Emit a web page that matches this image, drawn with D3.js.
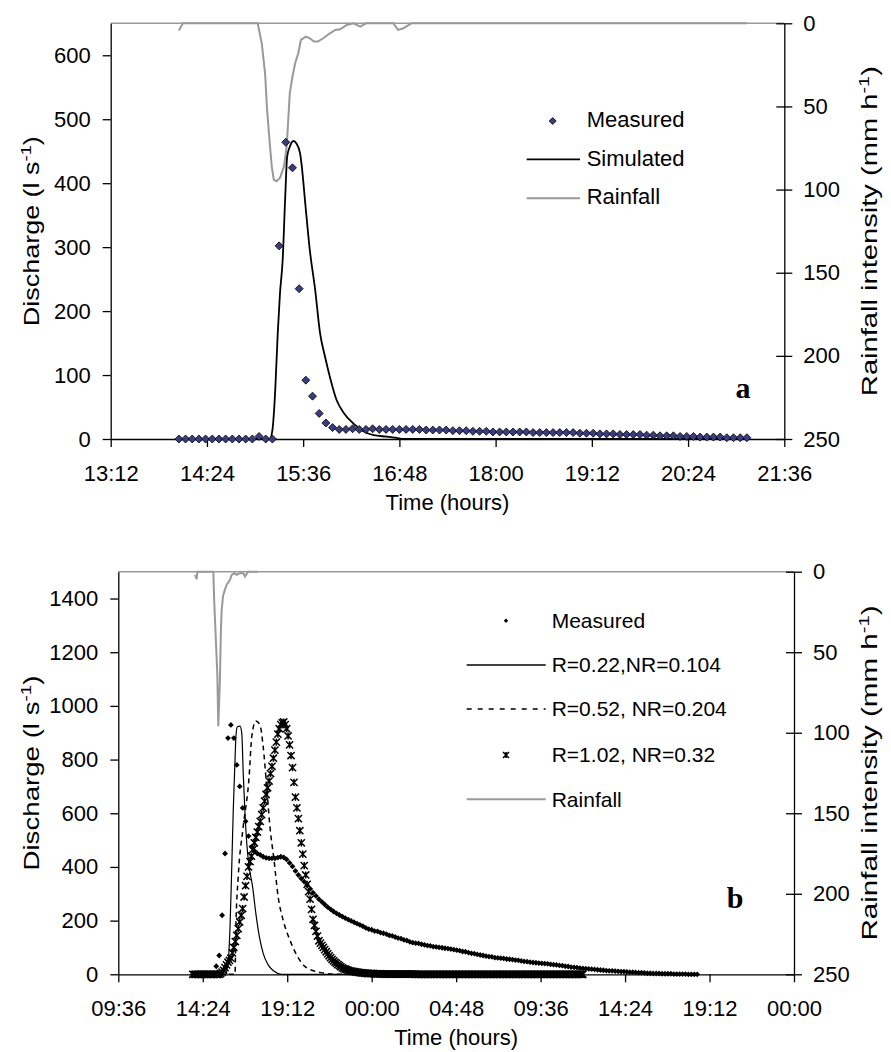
<!DOCTYPE html>
<html lang="en">
<head>
<meta charset="UTF-8">
<title>Discharge and rainfall, events a and b</title>
<script src="https://d3js.org/d3.v7.min.js"></script>
<style>
  body { margin: 0; background: #fff; }
  text { font-family: "Liberation Sans", Arial, sans-serif; fill: #000; }
  .tick text { font-size: 22px; }
  .axis path, .axis line { stroke: #000; stroke-width: 1.3; }
</style>
</head>
<body>
<svg width="891" height="1052"></svg>
<script>
// ---------- event a ----------
const aTimeTicks = ["13:12", "14:24", "15:36", "16:48", "18:00", "19:12", "20:24", "21:36"];
const aDischargeTicks = [0, 100, 200, 300, 400, 500, 600];
const aRainTicks = [0, 50, 100, 150, 200, 250];

// measured discharge every 5 minutes from 14:03 (l/s)
const aMeasuredStart = "14:03", aMeasuredStep = 5;
const aMeasured = [
  0, 0, 0, 0, 0, 0, 0, 0, 0, 0, 0, 0, 4, 0, 0,
  302, 464, 424, 235, 92, 67, 40, 25, 18,
  15, 15, 16, 15, 15, 16, 15, 15, 15, 15, 15, 15, 15,
  14, 14, 14, 14, 13, 13, 13, 12, 12, 12, 11, 11, 11, 11, 11, 11,
  10, 10, 10, 10, 10, 10, 10, 9, 9, 9, 8, 8, 8, 7, 7, 7, 7, 6, 6,
  5, 5, 5, 4, 4, 4, 3, 3, 3, 3, 2, 2, 2, 2
];

const aSimTimes = ["14:03", "15:11", "15:13", "15:15", "15:17", "15:18:40", "15:20:40", "15:22:30",
  "15:24", "15:26", "15:28:40", "15:31", "15:33:40", "15:35", "15:37:20", "15:41", "15:45",
  "15:48:40", "15:52:20", "15:56", "16:01", "16:06", "16:13:40", "16:21", "16:28:40",
  "16:38:40", "16:46", "16:51", "21:08"];
const aSimValues = [0, 0, 14, 72, 166, 228, 280, 374, 441, 457, 466, 462, 447, 426, 374, 295, 233,
  165, 129, 97, 61, 42, 24, 12, 6, 3.6, 1.6, 0, 0];

const aRainTimes = ["14:03", "14:06", "15:02", "15:05", "15:07:30", "15:09", "15:11", "15:12:30",
  "15:14", "15:16", "15:18:40", "15:21:40", "15:23:40", "15:25", "15:26", "15:28", "15:30",
  "15:32:20", "15:34:20", "15:38", "15:41", "15:44", "15:47", "15:51", "15:56", "16:00",
  "16:03:40", "16:08:40", "16:13:40", "16:18:40", "16:23", "16:43:30", "16:47", "16:51",
  "16:57", "21:08"];
const aRainValues = [4.4, 0, 0, 12, 30, 52, 72, 86, 94, 95, 93, 86, 74, 56, 42, 32, 24, 18, 10, 8,
  9, 11, 11, 9, 6, 4, 3.6, 1, 0, 2, 0, 0, 4, 3, 0, 0];

// ---------- event b ----------
const bTimeTicks = ["1 09:36", "1 14:24", "1 19:12", "2 00:00", "2 04:48", "2 09:36", "2 14:24", "2 19:12", "3 00:00"];
const bDischargeTicks = [0, 200, 400, 600, 800, 1000, 1200, 1400];
const bRainTicks = [0, 50, 100, 150, 200, 250];

// measured discharge every 10 minutes from 13:50 (l/s)
const bMeasuredStart = "1 13:50", bMeasuredStep = 10;
const bMeasured = [
  0, 0, 0, 0, 0, 0, 0, 3, 30, 70,
  220, 450, 880, 929, 880, 780, 700, 620, 570, 515,
  475, 460, 450, 445, 438, 434, 432, 432, 432, 435,
  438, 436, 428, 415, 402, 385, 370, 357, 345, 332,
  318, 304, 292, 280, 270, 260, 250, 242, 234, 227,
  221, 215, 209, 204, 199, 194, 189, 184, 179, 173,
  168, 166, 161, 160, 155, 153, 150, 145, 143, 139,
  135, 133, 128, 126, 121, 118, 116, 115, 112, 110,
  107, 106, 103, 102, 100, 99, 97, 96, 94, 92,
  90, 88, 85, 84, 81, 78, 77, 74, 72, 70,
  68, 66, 65, 62, 61, 60, 59, 57, 56, 55,
  53, 52, 50, 48, 47, 45, 44, 43, 42, 41,
  40, 39, 37, 36, 35, 33, 32, 30, 29, 27,
  26, 25, 23, 22, 21, 20, 19, 18, 17, 16,
  15, 14, 13, 13, 12, 11, 10, 10, 9, 8,
  8, 7, 6, 6, 5, 4, 4, 3, 3, 3,
  2, 2, 2, 2, 1, 1, 1, 1, 1, 0,
  0, 0, 0
];

// simulated, R=1.02, NR=0.32, every 5 minutes from 13:50
const bSim3Start = "1 13:50", bSim3Step = 5;
const bSim3 = [
  0, 0, 0, 0, 0, 0, 0, 0, 0, 0, 0, 0, 0, 0, 0, 0, 0, 0, 0, 3,
  8, 15, 25, 35, 45, 52, 60, 80, 100, 122, 145, 170, 195, 220, 245, 288, 330, 365, 400, 420,
  440, 465, 490, 510, 530, 550, 570, 595, 620, 645, 670, 695, 720, 748, 775, 805, 835, 865, 895, 915,
  930, 937, 940, 930, 915, 888, 855, 815, 770, 715, 660, 620, 580, 535, 490, 448, 405, 370, 335, 308,
  280, 242, 205, 182, 160, 142, 125, 116, 108, 100, 92, 84, 76, 69, 62, 56, 50, 45, 41, 36,
  32, 28, 24, 21, 19, 17, 15, 13, 12, 11, 10, 9, 8, 7, 6, 5, 5, 4, 4, 3,
  3, 3, 3, 3, 2, 2, 2, 2, 2, 2, 1, 1, 1, 1, 1, 1, 1, 1, 1, 1,
  1, 1, 1, 1, 1, 1, 1, 1, 1, 1, 1, 1, 0, 0, 0, 0, 0, 0, 0, 0,
  0, 0, 0, 0, 0, 0, 0, 0, 0, 0, 0, 0, 0, 0, 0, 0, 0, 0, 0, 0,
  0, 0, 0, 0, 0, 0, 0, 0, 0, 0, 0, 0, 0, 0, 0, 0, 0, 0, 0, 0,
  0, 0, 0, 0, 0, 0, 0, 0, 0, 0, 0, 0, 0, 0, 0, 0, 0, 0, 0, 0,
  0, 0, 0, 0, 0, 0, 0, 0, 0, 0, 0, 0, 0, 0, 0, 0, 0, 0, 0, 0,
  0, 0, 0, 0, 0, 0, 0, 0, 0, 0, 0, 0, 0, 0, 0, 0, 0, 0, 0, 0,
  0, 0, 0, 0, 0, 0, 0
];

// simulated, R=0.22, NR=0.104
const bSim1Times = ["1 13:50", "1 15:41", "1 15:51", "1 15:57", "1 16:02", "1 16:08", "1 16:14", "1 16:17",
  "1 16:22", "1 16:31", "1 16:37", "1 16:42", "1 16:48", "1 16:54", "1 17:02", "1 17:14", "1 17:25",
  "1 17:37", "1 17:50", "1 18:07", "1 18:25", "1 18:53", "2 12:00"];
const bSim1Values = [0, 0, 53, 177, 364, 612, 798, 885, 922, 925, 898, 749, 600, 488, 401, 326, 227,
  140, 78, 35, 13, 0, 0];

// simulated, R=0.52, NR=0.204
const bSim2Times = ["1 13:50", "1 16:14", "1 16:17", "1 16:25", "1 16:42", "1 17:02", "1 17:11", "1 17:25",
  "1 17:39", "1 17:50", "1 18:02", "1 18:13", "1 18:27", "1 18:41", "1 18:58", "1 19:21", "1 19:44",
  "1 20:07", "1 20:41", "1 21:15", "1 22:01", "2 12:00"];
const bSim2Values = [0, 0, 177, 364, 550, 736, 885, 944, 929, 848, 699, 550, 426, 289, 202, 128, 72,
  35, 13, 5, 0, 0];

const bRainTimes = ["1 13:58", "1 14:03", "1 14:06", "1 15:00", "1 15:03", "1 15:09", "1 15:13:30",
  "1 15:17", "1 15:22:30", "1 15:26", "1 15:28:30", "1 15:33", "1 15:40", "1 15:45:30", "1 15:57",
  "1 16:02:30", "1 16:11:30", "1 16:19:30", "1 16:28:30", "1 16:42", "1 16:48", "1 16:59", "1 17:30"];
const bRainValues = [2, 4.7, 0, 0, 18, 44, 63, 96, 67, 35, 24, 15, 11, 8, 5, 2, 1, 2, 1, 1, 3, 0, 0];

// ---------- helpers ----------
const parseT = s => {
  const parts = s.trim().split(" ");
  const day = parts.length > 1 ? +parts[0] : 1;
  const [h, m, sec = 0] = parts[parts.length - 1].split(":").map(Number);
  return new Date(2000, 0, day, h, m, sec);
};
const pairs = (times, values) => times.map((t, i) => ({ t: parseT(t), v: values[i] }));
const stepped = (start, step, values) =>
  values.map((v, i) => ({ t: d3.timeMinute.offset(parseT(start), i * step), v: v }));
const fmt = d3.timeFormat("%H:%M");

const svg = d3.select("svg");

function panel(o) {
  const x = d3.scaleTime().domain([parseT(o.tTicks[0]), parseT(o.tTicks[o.tTicks.length - 1])]).range([o.left, o.right]);
  const yq = d3.scaleLinear().domain([0, o.qMax]).range([o.bottom, o.top]);
  const yr = d3.scaleLinear().domain([0, 250]).range([o.top, o.bottom]);

  // top border of plot area
  svg.append("line")
    .attr("x1", o.left).attr("x2", o.right)
    .attr("y1", o.top).attr("y2", o.top)
    .attr("stroke", "#999").attr("stroke-width", 1.5);

  svg.append("g").attr("class", "axis")
    .attr("transform", `translate(0,${o.bottom})`)
    .call(d3.axisBottom(x).tickValues(o.tTicks.map(parseT)).tickFormat(fmt)
      .tickSizeInner(8).tickSizeOuter(0).tickPadding(18));

  svg.append("g").attr("class", "axis")
    .attr("transform", `translate(${o.left},0)`)
    .call(d3.axisLeft(yq).tickValues(o.qTicks).tickFormat(d3.format("d"))
      .tickSizeInner(8).tickSizeOuter(0).tickPadding(12));

  const ra = svg.append("g").attr("class", "axis")
    .attr("transform", `translate(${o.right},0)`)
    .call(d3.axisRight(yr).tickValues(o.rTicks).tickSizeInner(8).tickSizeOuter(0).tickPadding(11));
  ra.selectAll(".tick line").attr("x1", -8);

  svg.selectAll(".axis .tick text").attr("fill", "#000");

  // axis titles (stretched along their length like the original)
  const cy = (o.top + o.bottom) / 2;
  const lt = svg.append("text")
    .attr("transform", `translate(39,${cy}) rotate(-90)`)
    .attr("text-anchor", "middle").style("font-size", "22px")
    .attr("textLength", o.leftTitleLen).attr("lengthAdjust", "spacingAndGlyphs");
  lt.append("tspan").text("Discharge (l s");
  lt.append("tspan").attr("dy", -8).style("font-size", "15px").text("-1");
  lt.append("tspan").attr("dy", 8).text(")");

  const rt = svg.append("text")
    .attr("transform", `translate(877,${cy}) rotate(-90)`)
    .attr("text-anchor", "middle").style("font-size", "22px")
    .attr("textLength", o.rightTitleLen).attr("lengthAdjust", "spacingAndGlyphs");
  rt.append("tspan").text("Rainfall intensity (mm h");
  rt.append("tspan").attr("dy", -8).style("font-size", "15px").text("-1");
  rt.append("tspan").attr("dy", 8).text(")");

  svg.append("text")
    .attr("x", (o.left + o.right) / 2).attr("y", o.bottom + 71)
    .attr("text-anchor", "middle").style("font-size", "22px")
    .text("Time (hours)");

  return { x, yq, yr };
}

const diamond = r => `M0,${-r}L${r},0L0,${r}L${-r},0Z`;
const star = r => `M${-r},${-r}L${r},${r}M${-r},${r}L${r},${-r}M0,${-r}L0,${r}`;

// ---------- panel a ----------
{
  const o = { left: 110.7, right: 784.3, top: 23.3, bottom: 439, qMax: 650,
    tTicks: aTimeTicks, qTicks: aDischargeTicks, rTicks: aRainTicks,
    leftTitleLen: 190, rightTitleLen: 330 };
  const { x, yq, yr } = panel(o);

  svg.append("path").datum(pairs(aRainTimes, aRainValues))
    .attr("fill", "none").attr("stroke", "#999").attr("stroke-width", 2)
    .attr("d", d3.line().x(d => x(d.t)).y(d => yr(d.v)));

  svg.append("path").datum(pairs(aSimTimes, aSimValues))
    .attr("fill", "none").attr("stroke", "#000").attr("stroke-width", 1.8)
    .attr("d", d3.line().curve(d3.curveMonotoneX).x(d => x(d.t)).y(d => yq(d.v)));

  svg.append("g").selectAll("path")
    .data(stepped(aMeasuredStart, aMeasuredStep, aMeasured))
    .join("path")
    .attr("transform", d => `translate(${x(d.t)},${yq(d.v)})`)
    .attr("d", diamond(4))
    .attr("fill", "#3b3b80").attr("stroke", "#000").attr("stroke-width", 0.8);

  // legend
  const lg = svg.append("g").style("font-size", "22px");
  lg.append("path").attr("transform", "translate(552.7,121)").attr("d", diamond(3.5))
    .attr("fill", "#3b3b80").attr("stroke", "#000").attr("stroke-width", 0.8);
  lg.append("text").attr("x", 586.7).attr("y", 119).attr("dy", "0.35em").text("Measured");
  lg.append("line").attr("x1", 526.7).attr("x2", 580).attr("y1", 159.3).attr("y2", 159.3)
    .attr("stroke", "#000").attr("stroke-width", 1.8);
  lg.append("text").attr("x", 586.7).attr("y", 158.3).attr("dy", "0.35em").text("Simulated");
  lg.append("line").attr("x1", 526.7).attr("x2", 580).attr("y1", 198.3).attr("y2", 198.3)
    .attr("stroke", "#999").attr("stroke-width", 2);
  lg.append("text").attr("x", 586.7).attr("y", 196.7).attr("dy", "0.35em").text("Rainfall");

  svg.append("text").attr("x", 743).attr("y", 398).attr("text-anchor", "middle")
    .style("font-family", "'Liberation Serif', 'Times New Roman', serif")
    .style("font-weight", "bold").style("font-size", "30px").text("a");
}

// ---------- panel b ----------
{
  const o = { left: 118.3, right: 794, top: 571.7, bottom: 974.3, qMax: 1500,
    tTicks: bTimeTicks, qTicks: bDischargeTicks, rTicks: bRainTicks,
    leftTitleLen: 195, rightTitleLen: 335 };
  const { x, yq, yr } = panel(o);

  svg.append("path").datum(pairs(bRainTimes, bRainValues))
    .attr("fill", "none").attr("stroke", "#999").attr("stroke-width", 2)
    .attr("d", d3.line().x(d => x(d.t)).y(d => yr(d.v)));

  svg.append("g").selectAll("path")
    .data(stepped(bMeasuredStart, bMeasuredStep, bMeasured))
    .join("path")
    .attr("transform", d => `translate(${x(d.t)},${yq(d.v)})`)
    .attr("d", diamond(2.9)).attr("fill", "#000");

  svg.append("path").datum(pairs(bSim1Times, bSim1Values))
    .attr("fill", "none").attr("stroke", "#000").attr("stroke-width", 1.2)
    .attr("d", d3.line().curve(d3.curveMonotoneX).x(d => x(d.t)).y(d => yq(d.v)));

  svg.append("path").datum(pairs(bSim2Times, bSim2Values))
    .attr("fill", "none").attr("stroke", "#000").attr("stroke-width", 1.5)
    .attr("stroke-dasharray", "5,4")
    .attr("d", d3.line().curve(d3.curveMonotoneX).x(d => x(d.t)).y(d => yq(d.v)));

  svg.append("g").selectAll("path")
    .data(stepped(bSim3Start, bSim3Step, bSim3))
    .join("path")
    .attr("transform", d => `translate(${x(d.t)},${yq(d.v)})`)
    .attr("d", star(3.6))
    .attr("fill", "none").attr("stroke", "#000").attr("stroke-width", 1.5);

  // legend
  const lg = svg.append("g").style("font-size", "21px");
  const tx = 551.7;
  lg.append("path").attr("transform", "translate(506,620.7)").attr("d", diamond(2.2)).attr("fill", "#000");
  lg.append("text").attr("x", tx).attr("y", 620.7).attr("dy", "0.35em").text("Measured");
  lg.append("line").attr("x1", 466.7).attr("x2", 545.7).attr("y1", 665).attr("y2", 665)
    .attr("stroke", "#000").attr("stroke-width", 1.5);
  lg.append("text").attr("x", tx).attr("y", 665).attr("dy", "0.35em").text("R=0.22,NR=0.104");
  lg.append("line").attr("x1", 466.7).attr("x2", 545.7).attr("y1", 709).attr("y2", 709)
    .attr("stroke", "#000").attr("stroke-width", 1.5).attr("stroke-dasharray", "5,6");
  lg.append("text").attr("x", tx).attr("y", 709).attr("dy", "0.35em").text("R=0.52, NR=0.204");
  lg.append("path").attr("transform", "translate(506,755)").attr("d", star(3))
    .attr("fill", "none").attr("stroke", "#000").attr("stroke-width", 1.6);
  lg.append("text").attr("x", tx).attr("y", 755).attr("dy", "0.35em").text("R=1.02, NR=0.32");
  lg.append("line").attr("x1", 466.7).attr("x2", 545.7).attr("y1", 799.3).attr("y2", 799.3)
    .attr("stroke", "#999").attr("stroke-width", 2);
  lg.append("text").attr("x", tx).attr("y", 799.3).attr("dy", "0.35em").text("Rainfall");

  svg.append("text").attr("x", 735).attr("y", 908).attr("text-anchor", "middle")
    .style("font-family", "'Liberation Serif', 'Times New Roman', serif")
    .style("font-weight", "bold").style("font-size", "30px").text("b");
}
</script>
</body>
</html>
